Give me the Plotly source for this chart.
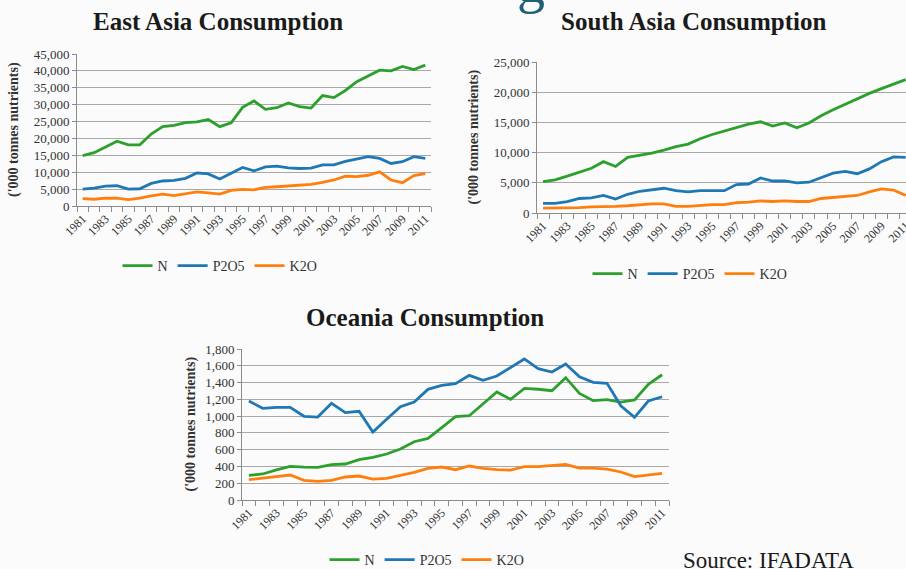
import plotly.graph_objects as go

W, H = 906, 569

years = list(range(1981, 2012))
year_labels = [str(y) for y in years[::2]]
series_names = ["N", "P2O5", "K2O"]
series_colors = ["#2ca02c", "#1f77b4", "#ff7f0e"]

# East Asia ('000 tonnes nutrients)
east_n = [14900, 15800, 17500, 19200, 18100, 18100, 21300, 23500, 23900, 24700, 24900, 25600,
          23500, 24600, 29200, 31100, 28600, 29100, 30500, 29400, 29000, 32700, 32100, 34200,
          36800, 38600, 40200, 40000, 41300, 40400, 41700]
east_p = [5000, 5300, 5900, 6000, 5000, 5100, 6700, 7400, 7600, 8200, 9800, 9500,
          8000, 9800, 11400, 10400, 11600, 11800, 11300, 11100, 11200, 12200, 12200, 13200,
          13900, 14600, 14100, 12600, 13100, 14600, 14100]
east_k = [2200, 2000, 2300, 2300, 1900, 2300, 3000, 3500, 3100, 3700, 4200, 3900,
          3500, 4600, 4900, 4800, 5500, 5700, 5900, 6000, 6400, 7000, 7700, 8800,
          8700, 9100, 10100, 7700, 6900, 9000, 9600]

# South Asia
south_n = [5200, 5500, 6100, 6800, 7400, 8500, 7700, 9200, 9500, 9900, 10400, 11000,
           11400, 12300, 13000, 13600, 14200, 14700, 15100, 14400, 14900, 14100, 14900, 16100,
           17100, 18000, 19000, 19800, 20600, 21300, 22100]
south_p = [1600, 1600, 1900, 2400, 2500, 2900, 2300, 3100, 3600, 3800, 4100, 3700,
           3500, 3700, 3700, 3700, 4700, 4800, 5800, 5300, 5300, 5000, 5100, 5800,
           6600, 6900, 6500, 7300, 8500, 9300, 9200]
south_k = [800, 800, 800, 900, 1000, 1000, 1100, 1200, 1400, 1500, 1500, 1100,
           1100, 1300, 1400, 1400, 1700, 1800, 2000, 1900, 2000, 1900, 1900, 2400,
           2600, 2700, 2900, 3500, 4000, 3800, 2900]

# Oceania
oc_n = [294, 310, 358, 401, 393, 389, 421, 429, 481, 509, 548, 608, 695, 735, 862, 993,
        1005, 1145, 1287, 1200, 1331, 1320, 1303, 1458, 1271, 1184, 1196, 1168, 1192, 1379, 1493]
oc_p = [1180, 1093, 1105, 1105, 998, 989, 1152, 1041, 1057, 810, 962, 1112, 1168, 1319, 1367, 1386,
        1486, 1427, 1478, 1577, 1681, 1565, 1526, 1621, 1470, 1403, 1391, 1124, 986, 1180, 1231]
oc_k = [242, 262, 278, 298, 235, 223, 235, 274, 286, 250, 258, 290, 330, 378, 393, 361,
        405, 378, 361, 357, 397, 397, 413, 425, 381, 381, 369, 334, 278, 298, 318]

SERIF = "Liberation Serif"
AXIS_COL = "#8c8c8c"
GRID_COL = "#a8a8a8"


def px_x(p):
    return p / W


def px_y(p):
    return 1 - p / H


# one entry per panel: title, data, plot box in pixels, y axis, legend centre
panels = [
    dict(title="East Asia Consumption", data=[east_n, east_p, east_k],
         box=(77, 431, 54, 206), ymax=45000, dtick=5000, xhi=2011.5,
         title_xy=(218, 22), ytitle_x=14, legend_xy=(220, 266)),
    dict(title="South Asia Consumption", data=[south_n, south_p, south_k],
         box=(537, 906, 62, 213), ymax=25000, dtick=5000, xhi=2011.03,
         title_xy=(693, 22), ytitle_x=473, legend_xy=(690, 274)),
    dict(title="Oceania Consumption", data=[oc_n, oc_p, oc_k],
         box=(242, 669, 349, 500), ymax=1800, dtick=200, xhi=2011.5,
         title_xy=(425, 317), ytitle_x=190, legend_xy=(427, 560)),
]

fig = go.Figure()
annotations = []
layout = {}

for i, p in enumerate(panels):
    k = "" if i == 0 else str(i + 1)
    x0, x1, y0, y1 = p["box"]
    for name, vals, col in zip(series_names, p["data"], series_colors):
        fig.add_trace(go.Scatter(x=years, y=vals, name=name, mode="lines",
                                 line=dict(color=col, width=2.8),
                                 xaxis="x" + k, yaxis="y" + k, legend="legend" + k))

    layout["xaxis" + k] = dict(
        domain=[px_x(x0), px_x(x1)], anchor="y" + k, range=[1980.5, p["xhi"]],
        tickmode="array", tickvals=years[::2], ticktext=year_labels, tickangle=-45,
        ticks="", showgrid=False, zeroline=False, showline=True,
        linecolor=AXIS_COL, linewidth=1, automargin=False, ticklabeloverflow="allow",
        tickfont=dict(family=SERIF, size=12, color="#333333"),
        minor=dict(tickvals=[1980.5 + j for j in range(32)], ticks="outside",
                   ticklen=5, tickcolor=AXIS_COL, showgrid=False),
    )
    layout["yaxis" + k] = dict(
        domain=[px_y(y1), px_y(y0)], anchor="x" + k, range=[0, p["ymax"]],
        dtick=p["dtick"], tickformat=",", showgrid=True, gridcolor=GRID_COL,
        gridwidth=1.3, zeroline=False, showline=True, linecolor=AXIS_COL,
        ticks="outside", ticklen=4, tickcolor=AXIS_COL, automargin=False,
        tickfont=dict(family=SERIF, size=13, color="#333333"),
    )
    lx, ly = p["legend_xy"]
    layout["legend" + k] = dict(
        orientation="h", x=px_x(lx), xanchor="center", y=px_y(ly), yanchor="middle",
        font=dict(family=SERIF, size=14, color="#333333"), bgcolor="rgba(0,0,0,0)",
        itemwidth=30, tracegroupgap=0,
    )

    tx, ty = p["title_xy"]
    annotations.append(dict(text=p["title"], x=px_x(tx), y=px_y(ty), xref="paper", yref="paper",
                            xanchor="center", yanchor="middle", showarrow=False,
                            font=dict(family=SERIF, size=25, color="#1a1a1a", weight="bold")))
    annotations.append(dict(text="('000 tonnes nutrients)", x=px_x(p["ytitle_x"]),
                            y=px_y((y0 + y1) / 2), xref="paper", yref="paper",
                            xanchor="center", yanchor="middle", textangle=-90, showarrow=False,
                            font=dict(family=SERIF, size=14, color="#333333", weight="bold")))

# source note and the clipped slide-title glyph at the top
annotations.append(dict(text="Source: IFADATA", x=px_x(681), y=px_y(546), xref="paper", yref="paper",
                        xanchor="left", yanchor="top", showarrow=False,
                        font=dict(family=SERIF, size=23, color="#1a1a1a")))
annotations.append(dict(text="g", x=px_x(531), y=px_y(16), xref="paper", yref="paper",
                        xanchor="center", yanchor="bottom", showarrow=False,
                        font=dict(family=SERIF, size=56, color="#1f5f7a")))

fig.update_layout(
    width=W, height=H,
    margin=dict(l=0, r=0, t=0, b=0, autoexpand=False),
    paper_bgcolor="#fbfbfb", plot_bgcolor="rgba(0,0,0,0)",
    annotations=annotations,
    **layout,
)

# the page's default body margin would shift the figure by 8px
fig.write_html("out.html", config={"displayModeBar": False},
               post_script="document.body.style.margin='0';")
